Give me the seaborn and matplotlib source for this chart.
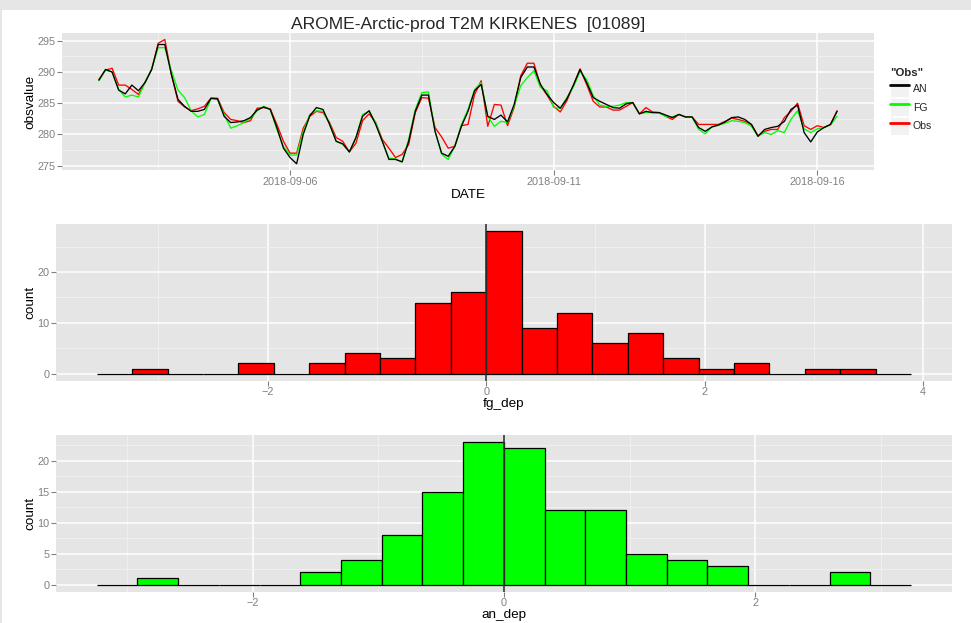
import numpy as np
import pandas as pd
import seaborn as sns
import matplotlib.pyplot as plt
import matplotlib.dates as mdates
from matplotlib.lines import Line2D
from matplotlib.patches import Rectangle
from matplotlib.legend_handler import HandlerTuple
from matplotlib.ticker import MultipleLocator, FixedLocator

# --- 1. DATA ---
start_time = '2018-09-02 09:00'
step = '3h'

an = [288.7, 290.4, 290.0, 287.1, 286.5, 287.9, 287.0, 288.3, 290.4, 294.4,
      294.4, 289.6, 285.6, 284.5, 283.7, 283.7, 284.0, 285.8, 285.7, 282.9,
      281.9, 282.0, 282.2, 282.7, 283.9, 284.4, 284.0, 281.1, 277.8, 276.3,
      275.3, 280.0, 283.0, 284.3, 284.0, 281.6, 278.9, 278.5, 277.2, 279.5,
      282.9, 283.8, 281.6, 278.9, 276.0, 276.0, 275.6, 278.9, 283.7, 286.3,
      286.3, 280.5, 277.0, 276.5, 278.1, 281.3, 283.7, 287.0, 288.0, 282.9,
      282.4, 283.1, 282.0, 284.8, 289.1, 290.8, 290.8, 288.0, 286.4, 285.1,
      284.2, 285.7, 287.9, 290.4, 288.3, 285.9, 285.3, 284.8, 284.3, 284.2,
      284.9, 285.1, 283.3, 283.7, 283.5, 283.5, 283.1, 282.7, 283.2, 282.8,
      282.8, 281.1, 280.5, 281.2, 281.5, 282.0, 282.7, 282.8, 282.4, 281.6,
      279.7, 280.8, 281.1, 281.3, 282.1, 284.0, 284.7, 280.3, 278.8, 280.4,
      281.1, 281.6, 283.7]
fg = [288.6, 290.3, 290.0, 287.2, 286.0, 286.3, 286.0, 288.3, 290.5, 293.9,
      293.9, 290.2, 287.1, 285.9, 283.8, 282.8, 283.2, 285.7, 285.6, 283.2,
      281.0, 281.4, 281.9, 282.6, 283.8, 284.5, 284.0, 280.8, 278.1, 276.7,
      276.7, 280.5, 283.2, 283.8, 283.7, 281.7, 278.9, 278.4, 277.2, 279.5,
      283.2, 283.7, 281.9, 278.9, 276.2, 276.1, 275.6, 279.2, 284.0, 286.7,
      286.8, 280.5, 276.8, 276.0, 278.1, 281.6, 284.0, 287.2, 288.3, 282.9,
      281.3, 282.1, 281.9, 284.5, 287.8, 289.1, 290.2, 287.5, 287.0, 284.3,
      284.2, 285.9, 287.6, 290.1, 288.8, 286.2, 284.7, 284.5, 284.5, 284.7,
      285.1, 285.1, 283.3, 283.5, 283.5, 283.4, 282.9, 282.8, 283.2, 282.8,
      282.8, 280.8, 280.1, 281.2, 281.5, 281.8, 282.2, 282.1, 281.9, 281.3,
      279.7, 280.3, 280.0, 280.6, 280.3, 282.4, 283.8, 280.9, 280.3, 280.9,
      281.1, 281.5, 282.9]
obs = [288.8, 290.3, 290.6, 287.9, 287.9, 287.2, 286.4, 288.4, 290.4, 294.6,
       295.2, 289.6, 285.3, 284.4, 283.8, 284.1, 284.5, 285.8, 285.8, 283.5,
       282.4, 282.2, 281.9, 282.2, 284.2, 284.3, 284.1, 281.6, 278.9, 277.0,
       277.0, 281.0, 282.9, 283.7, 283.5, 281.9, 279.5, 278.9, 277.2, 278.6,
       282.2, 283.3, 281.9, 279.2, 277.8, 276.3, 276.8, 278.4, 283.5, 285.9,
       285.8, 281.1, 279.6, 277.8, 278.1, 281.4, 281.6, 286.4, 288.6, 281.3,
       284.8, 284.7, 281.4, 284.3, 289.4, 291.4, 291.4, 287.8, 286.3, 284.5,
       283.6, 285.4, 287.9, 290.5, 288.0, 285.3, 284.4, 284.4, 283.9, 283.9,
       284.5, 285.1, 283.3, 284.3, 283.6, 283.5, 282.9, 282.4, 283.2, 282.8,
       282.8, 281.6, 281.6, 281.6, 281.6, 282.1, 282.6, 282.4, 282.1, 281.6,
       279.8, 280.5, 280.8, 280.8, 282.7, 283.7, 285.0, 281.4, 280.8, 281.4,
       281.1, 281.6, 283.8]

series_names = ['AN', 'FG', 'Obs']
series_colors = ['black', '#00FF00', '#FF0000']

date_ticks = ['2018-09-06', '2018-09-11', '2018-09-16']
date_minor = ['2018-09-03 12:00', '2018-09-08 12:00', '2018-09-13 12:00']

bin_width = 0.324
fg_first_bin = -11          # in units of bin_width
fg_counts = [0, 1, 0, 0, 2, 0, 2, 4, 3, 14, 16, 28, 9, 12, 6, 8, 3, 1, 2, 0, 1, 1, 0]
an_first_bin = -10
an_counts = [0, 1, 0, 0, 0, 2, 4, 8, 15, 23, 22, 12, 12, 5, 4, 3, 0, 0, 2, 0]

title = 'AROME-Arctic-prod T2M KIRKENES  [01089]'

# --- 2. STYLE (ggplot-ish grey theme) ---
W, H = 971, 623
sns.set_theme(style='darkgrid', rc={
    'axes.facecolor': '#E5E5E5',
    'figure.facecolor': 'white',
    'grid.color': 'white',
    'xtick.color': '#808080',
    'ytick.color': '#808080',
    'xtick.labelcolor': '#808080',
    'ytick.labelcolor': '#808080',
    'xtick.labelsize': 7.8,
    'ytick.labelsize': 7.8,
    'axes.labelsize': 9.7,
    'axes.labelcolor': 'black',
})
plt.rcParams['font.family'] = ['Liberation Sans', 'DejaVu Sans']

fig = plt.figure(figsize=(W / 100, H / 100), dpi=100)


def px_axes(left, top, right, bottom):
    return fig.add_axes([left / W, 1 - bottom / H, (right - left) / W, (bottom - top) / H])


def style_axes(ax):
    for s in ax.spines.values():
        s.set_visible(False)
    ax.grid(True, which='major', color='white', lw=1.1)
    ax.grid(True, which='minor', color='#F2F2F2', lw=0.6)
    ax.set_axisbelow(True)
    ax.tick_params(which='major', length=3.3, width=0.8, color='#808080', pad=1.5,
                   bottom=True, left=True)
    ax.tick_params(which='minor', length=0)


# --- 3. TIME SERIES PANEL ---
times = pd.date_range(start_time, periods=len(an), freq=step)
df = pd.DataFrame({'DATE': times, 'AN': an, 'FG': fg, 'Obs': obs})
long_df = df.melt(id_vars='DATE', var_name='variable', value_name='obsvalue')
palette = dict(zip(series_names, series_colors))

ax1 = px_axes(62, 33.3, 874, 170)
# AN drawn last so the black line sits on top, as in the reference
sns.lineplot(data=long_df, x='DATE', y='obsvalue', hue='variable',
             hue_order=series_names[::-1], palette=palette, lw=0.95, legend=False, ax=ax1)
style_axes(ax1)

t0, t1 = mdates.date2num(times[0]), mdates.date2num(times[-1])
pad_t = 0.05 * (t1 - t0)
ax1.set_xlim(t0 - pad_t, t1 + pad_t)
vmin, vmax = long_df['obsvalue'].min(), long_df['obsvalue'].max()
pad_v = 0.05 * (vmax - vmin)
ax1.set_ylim(vmin - pad_v, vmax + pad_v)
ax1.xaxis.set_major_locator(FixedLocator(mdates.date2num(pd.to_datetime(date_ticks))))
ax1.xaxis.set_minor_locator(FixedLocator(mdates.date2num(pd.to_datetime(date_minor))))
ax1.xaxis.set_major_formatter(mdates.DateFormatter('%Y-%m-%d'))
ax1.yaxis.set_major_locator(MultipleLocator(5))
ax1.yaxis.set_minor_locator(MultipleLocator(2.5))
ax1.set_title(title, fontsize=12.6, pad=2.9)
ax1.set_xlabel('DATE', va='baseline')
ax1.xaxis.set_label_coords(468 / W, 1 - 198 / H, transform=fig.transFigure)
ax1.set_ylabel('obsvalue', va='baseline', ha='center')
ax1.yaxis.set_label_coords(33.5 / W, 1 - 101.7 / H, transform=fig.transFigure)

# legend keys: grey key box with the coloured line drawn over it
handles = [(Rectangle((0, 0), 1, 1, facecolor='#F2F2F2', edgecolor='white', lw=0.8),
            Line2D([], [], color=c, lw=2.0)) for c in series_colors]
leg = ax1.legend(handles, series_names, handler_map={tuple: HandlerTuple(ndivide=1)},
                 loc='upper left', bbox_to_anchor=(890 / W, 1 - 68.5 / H),
                 bbox_transform=fig.transFigure, frameon=False, fontsize=7.6,
                 title='"Obs"', title_fontproperties={'weight': 'bold', 'size': 8.2},
                 handlelength=1.8, handleheight=2.25, handletextpad=0.35,
                 labelspacing=0.08, borderpad=0, borderaxespad=0, alignment='left')


# --- 4. HISTOGRAM PANELS ---
def draw_hist(ax, first_bin, counts, color, xlabel, major_y, minor_y, label_baseline):
    edges = bin_width * (first_bin + np.arange(len(counts) + 1))
    hist_df = pd.DataFrame({'center': 0.5 * (edges[:-1] + edges[1:]), 'count': counts})
    sns.histplot(data=hist_df, x='center', weights='count', bins=list(edges),
                 color=color, alpha=1, edgecolor='black', linewidth=0.9, ax=ax)
    ax.axvline(0, color='#333333', lw=1.2, zorder=3)
    style_axes(ax)
    span = edges[-1] - edges[0]
    ax.set_xlim(edges[0] - 0.05 * span, edges[-1] + 0.05 * span)
    top = max(counts)
    ax.set_ylim(-0.05 * top, 1.05 * top)
    ax.xaxis.set_major_locator(MultipleLocator(2))
    ax.xaxis.set_minor_locator(MultipleLocator(1))
    ax.yaxis.set_major_locator(MultipleLocator(major_y))
    ax.yaxis.set_minor_locator(MultipleLocator(minor_y))
    ax.set_xlabel(xlabel, va='baseline')
    ax.xaxis.set_label_coords(504 / W, 1 - label_baseline / H, transform=fig.transFigure)
    ax.set_ylabel('count', va='baseline', ha='center')


ax2 = px_axes(56, 224.3, 951.7, 380.7)
draw_hist(ax2, fg_first_bin, fg_counts, '#FF0000', 'fg_dep', 10, 5, 406.5)
ax2.yaxis.set_label_coords(33.5 / W, 1 - 302.5 / H, transform=fig.transFigure)

ax3 = px_axes(56, 435, 951.7, 591.7)
draw_hist(ax3, an_first_bin, an_counts, '#00FF00', 'an_dep', 5, 2.5, 618)
ax3.yaxis.set_label_coords(33.5 / W, 1 - 513 / H, transform=fig.transFigure)

# grey page strip above and left of the white sheet
fig.patches.append(Rectangle((0, 1 - 9.5 / H), 1, 9.5 / H, transform=fig.transFigure,
                             facecolor='#E6E6E6', edgecolor='none', zorder=-5))
fig.patches.append(Rectangle((0, 0), 2 / W, 1, transform=fig.transFigure,
                             facecolor='#E6E6E6', edgecolor='none', zorder=-5))

fig.savefig('out.png', dpi=100)
